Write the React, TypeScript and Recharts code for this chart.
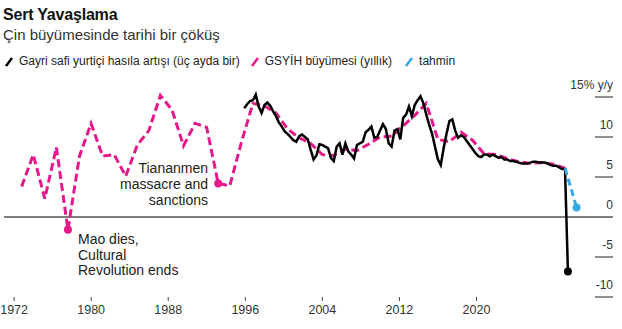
import React from 'react';
import { ComposedChart, Line, XAxis, YAxis, ReferenceLine } from 'recharts';

// annual GDP growth (%), plotted at the end of each year
const ANNUAL_YEARS = [
  1972, 1973, 1974, 1975, 1976, 1977, 1978, 1979, 1980, 1981, 1982, 1983, 1984, 1985, 1986, 1987,
  1988, 1989, 1990, 1991, 1992, 1993, 1994, 1995, 1996, 1997, 1998, 1999, 2000, 2001, 2002, 2003,
  2004, 2005, 2006, 2007, 2008, 2009, 2010, 2011, 2012, 2013, 2014, 2015, 2016, 2017, 2018, 2019,
];
const ANNUAL_GROWTH = [
  3.8, 7.8, 2.3, 8.7, -1.6, 7.6, 11.7, 7.6, 7.8, 5.1, 9.0, 10.8, 15.2, 13.4, 8.9, 11.7,
  11.2, 4.2, 3.9, 9.3, 14.2, 13.9, 13.0, 11.0, 9.9, 9.2, 7.8, 7.7, 8.5, 8.3, 9.1, 10.0,
  10.1, 11.4, 12.7, 14.2, 9.7, 9.4, 10.6, 9.6, 7.9, 7.8, 7.3, 6.9, 6.7, 6.8, 6.6, 6.1,
];
const ANNOTATED_YEARS = [1976, 1989];

// quarterly GDP growth (%), 1992 Q1 .. 2020 Q1, plotted at quarter end
const QUARTERLY_START = 1992;
const QUARTERLY_GROWTH = [
  13.6, 14.1, 14.5, 14.6, 15.3, 13.8, 13.0, 14.0, 14.3, 13.9, 13.2, 12.6,
  11.8, 11.3, 10.7, 10.4, 10.0, 9.6, 9.4, 10.1, 10.3, 10.0, 9.7, 8.4,
  7.2, 7.7, 9.1, 9.0, 8.8, 8.6, 7.4, 7.0, 8.8, 9.2, 7.8, 9.2,
  8.2, 7.8, 7.3, 9.0, 9.2, 9.4, 10.6, 10.9, 11.3, 9.9, 10.0, 10.8,
  11.6, 11.0, 9.2, 8.8, 10.8, 11.0, 9.7, 12.4, 12.8, 13.8, 12.6, 14.0,
  14.6, 15.1, 14.2, 12.8, 11.5, 10.4, 8.8, 7.2, 6.5, 8.6, 10.4, 12.0,
  12.2, 10.8, 9.9, 10.2, 10.0, 9.5, 9.0, 8.5, 8.0, 7.6, 7.5, 7.8,
  7.8, 7.6, 7.8, 7.6, 7.4, 7.5, 7.2, 7.2, 7.0, 7.0, 6.9, 6.8,
  6.7, 6.7, 6.7, 6.8, 6.9, 6.9, 6.8, 6.8, 6.8, 6.7, 6.5, 6.4,
  6.4, 6.2, 6.0, 6.0, -6.8,
];

// forecast
const FORECAST_YEARS = [2019, 2020];
const FORECAST_GROWTH = [6.1, 1.2];

const Y_TICKS = [15, 10, 5, 0, -5, -10];
const X_LABELS = [1972, 1980, 1988, 1996, 2004, 2012, 2020];

const FONT = '"Liberation Sans", Arial, sans-serif';
const PINK = '#e6198a';
const BLUE = '#35a8e6';

const annualData = ANNUAL_YEARS.map((y, i) => ({ t: y + 1, year: y, v: ANNUAL_GROWTH[i] }));
const quarterlyData = QUARTERLY_GROWTH.map((v, i) => ({ t: QUARTERLY_START + (i + 1) / 4, v }));
const forecastData = FORECAST_YEARS.map((y, i) => ({ t: y + 1, v: FORECAST_GROWTH[i] }));
// carrier for the year labels axis (draws nothing)
const labelData = X_LABELS.map((y) => ({ t: y, v: 0 }));

const YTick = (props: any) => {
  const { x, y, payload } = props;
  return (
    <g>
      {payload.value !== 0 && <line x1={x - 18} x2={x} y1={y} y2={y} stroke="#222" strokeWidth={1} />}
      <text x={x} y={y - 8} textAnchor="end" fontSize={12} fontFamily={FONT} fill="#333">
        {payload.value === 15 ? '15% y/y' : payload.value}
      </text>
    </g>
  );
};

const App: React.FC = () => {
  const lastQ = quarterlyData.length - 1;
  return (
    <div style={{ position: 'absolute', left: 0, top: 0, width: 622, height: 329, background: '#fff', fontFamily: FONT, color: '#222' }}>
      <div style={{ position: 'absolute', left: 3, top: 7, fontSize: 16, lineHeight: 1, fontWeight: 700, color: '#111', letterSpacing: -0.2 }}>Sert Yavaşlama</div>
      <div style={{ position: 'absolute', left: 3, top: 27, fontSize: 15, lineHeight: 1, color: '#333' }}>Çin büyümesinde tarihi bir çöküş</div>
      <div style={{ position: 'absolute', left: 4, top: 55, fontSize: 12, lineHeight: 1, display: 'flex', alignItems: 'center', color: '#222' }}>
        <svg width={10} height={11}><line x1={2} y1={10} x2={8} y2={2} stroke="#000" strokeWidth={2.5} /></svg>
        <span style={{ marginLeft: 5 }}>Gayri safi yurtiçi hasıla artışı (üç ayda bir)</span>
        <svg width={10} height={11} style={{ marginLeft: 10 }}><line x1={2} y1={10} x2={8} y2={2} stroke={PINK} strokeWidth={2.5} /></svg>
        <span style={{ marginLeft: 5 }}>GSYİH büyümesi (yıllık)</span>
        <svg width={10} height={11} style={{ marginLeft: 12 }}><line x1={2} y1={10} x2={8} y2={2} stroke={BLUE} strokeWidth={2.5} /></svg>
        <span style={{ marginLeft: 5 }}>tahmin</span>
      </div>

      <ComposedChart width={622} height={329} margin={{ top: 89, right: 8, bottom: 8, left: 4 }} style={{ fontFamily: FONT }}>
        <XAxis
          xAxisId="lbl"
          dataKey="t"
          type="number"
          domain={[1970.95, 2034.17]}
          allowDataOverflow
          ticks={X_LABELS}
          interval={0}
          axisLine={false}
          tickSize={4}
          tickMargin={4}
          height={24}
          tick={{ fontSize: 12.5, fill: '#333', fontFamily: FONT }}
          tickLine={{ stroke: '#444' }}
        />
        <XAxis dataKey="t" type="number" domain={[1971.47, 2024.15]} allowDataOverflow hide height={0} />
        <YAxis
          orientation="right"
          type="number"
          domain={[-10, 16]}
          ticks={Y_TICKS}
          width={1}
          axisLine={false}
          tickLine={false}
          tickSize={0}
          tickMargin={0}
          tick={<YTick />}
        />
        <ReferenceLine y={0} stroke="#000" strokeWidth={1} />
        <Line
          xAxisId="lbl"
          data={labelData}
          dataKey="v"
          stroke="none"
          dot={false}
          activeDot={false}
          isAnimationActive={false}
        />
        <Line
          data={annualData}
          dataKey="v"
          stroke={PINK}
          strokeWidth={3}
          strokeDasharray="8 4"
          isAnimationActive={false}
          dot={(p: any) =>
            ANNOTATED_YEARS.includes(p.payload.year) ? (
              <circle key={p.index} cx={p.cx} cy={p.cy} r={4} fill={PINK} />
            ) : (
              <g key={p.index} />
            )
          }
          activeDot={false}
        />
        <Line
          data={quarterlyData}
          dataKey="v"
          stroke="#000"
          strokeWidth={2.5}
          isAnimationActive={false}
          dot={(p: any) =>
            p.index === lastQ ? <circle key={p.index} cx={p.cx} cy={p.cy} r={4} fill="#000" /> : <g key={p.index} />
          }
          activeDot={false}
        />
        <Line
          data={forecastData}
          dataKey="v"
          stroke={BLUE}
          strokeWidth={3}
          strokeDasharray="7 4"
          isAnimationActive={false}
          dot={(p: any) =>
            p.index === forecastData.length - 1 ? <circle key={p.index} cx={p.cx} cy={p.cy} r={4} fill={BLUE} /> : <g key={p.index} />
          }
          activeDot={false}
        />
      </ComposedChart>

      <div style={{ position: 'absolute', right: 414, top: 160, fontSize: 14, lineHeight: '16px', textAlign: 'right', color: '#222' }}>
        Tiananmen<br />massacre and<br />sanctions
      </div>
      <div style={{ position: 'absolute', left: 78, top: 232, fontSize: 14, lineHeight: '15.5px', color: '#222' }}>
        Mao dies,<br />Cultural<br />Revolution ends
      </div>
    </div>
  );
};

export default App;
